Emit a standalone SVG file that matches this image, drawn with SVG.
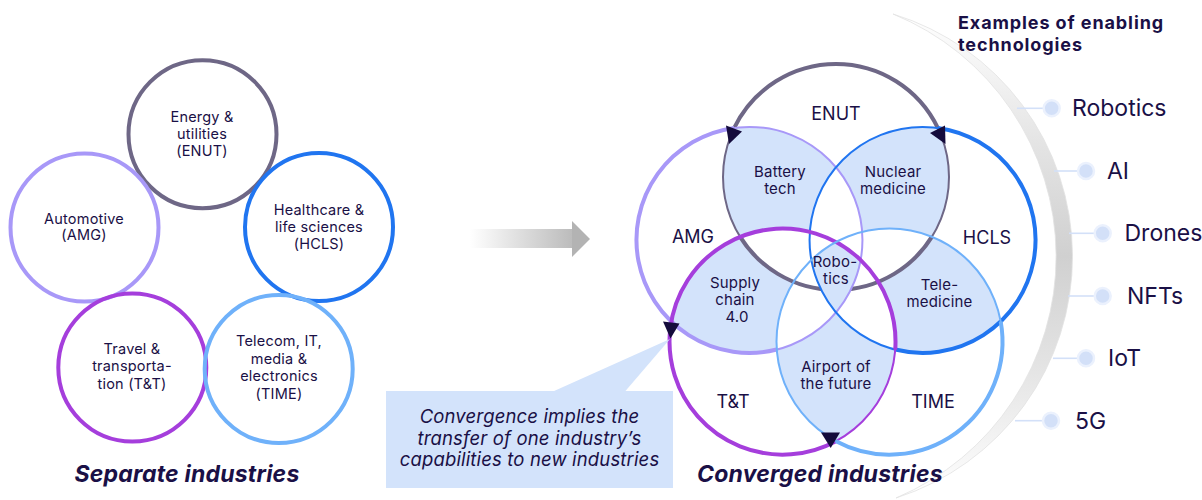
<svg xmlns="http://www.w3.org/2000/svg" width="1202" height="500" viewBox="0 0 1202 500">
<style>
text{font-family:Inter,"Liberation Sans",sans-serif;fill:#1a1046}
.lt{font-size:14.5px;text-anchor:middle;letter-spacing:0.2px}
.vl{font-size:18px;text-anchor:middle}
.rl{font-size:15px;text-anchor:middle;letter-spacing:0.2px}
.tl{font-size:23px}
.hd{font-size:18px;font-weight:700;letter-spacing:0.9px}
.ti{font-size:23px;font-weight:700;font-style:italic;text-anchor:middle;letter-spacing:0.2px}
.co{font-size:18.5px;font-style:italic;text-anchor:middle;letter-spacing:0.15px}
.lc{fill:none;stroke-width:4}
.thin{fill:none;stroke-width:2}
.thk{fill:none;stroke-width:4;stroke-linecap:butt}
.ah{fill:#140b3c}
.dot{fill:#d3e0f8;stroke:#ebf1fd;stroke-width:2.5}
.tline{stroke:#d3e0f8;stroke-width:1.6}
.fb{fill:#d3e3fb}
</style>
<defs>
<clipPath id="kE"><circle cx="836" cy="177" r="113"/></clipPath>
<clipPath id="kA"><circle cx="749.45" cy="239.88" r="113"/></clipPath>
<clipPath id="kH"><circle cx="922.55" cy="239.88" r="113"/></clipPath>
<clipPath id="kT"><circle cx="782.51" cy="341.62" r="113"/></clipPath>
<clipPath id="kM"><circle cx="889.49" cy="341.62" r="113"/></clipPath>
<linearGradient id="gArrow" x1="470" y1="0" x2="590" y2="0" gradientUnits="userSpaceOnUse">
<stop offset="0" stop-color="#ffffff"/><stop offset="1" stop-color="#b0b0b0"/>
</linearGradient>
<linearGradient id="gArc" x1="0" y1="14" x2="0" y2="498" gradientUnits="userSpaceOnUse">
<stop offset="0" stop-color="#ffffff"/><stop offset="0.28" stop-color="#e3e3e3"/><stop offset="0.5" stop-color="#d0d0d0"/><stop offset="0.72" stop-color="#e3e3e3"/><stop offset="1" stop-color="#ffffff"/>
</linearGradient>
</defs>

<!-- big crescent -->
<g id="tech-arc">
<path d="M893,14 A253.5,253.5 0 0 1 896,498 A262,262 0 0 0 893,14 Z" fill="url(#gArc)" stroke="#e2e2e2" stroke-width="0.8"/>
</g>

<!-- Left: separate industries -->
<g id="sep-enut"><circle class="lc" cx="202.5" cy="134.2" r="74" stroke="#6e6786"/>
<text class="lt" x="202" y="122.3">Energy &amp;</text><text class="lt" x="202" y="139">utilities</text><text class="lt" x="202" y="155.7">(ENUT)</text></g>
<g id="sep-amg"><circle class="lc" cx="84.5" cy="227.5" r="74" stroke="#a898f8"/>
<text class="lt" x="84" y="223.5">Automotive</text><text class="lt" x="84" y="240">(AMG)</text></g>
<g id="sep-hcls"><circle class="lc" cx="319" cy="227" r="74" stroke="#2075f0"/>
<text class="lt" x="319" y="214.5">Healthcare &amp;</text><text class="lt" x="319" y="231.8">life sciences</text><text class="lt" x="319" y="249">(HCLS)</text></g>
<g id="sep-tt"><circle class="lc" cx="132.3" cy="367.5" r="74" stroke="#a53edc"/>
<text class="lt" x="132" y="353.5">Travel &amp;</text><text class="lt" x="132" y="371">transporta-</text><text class="lt" x="132" y="388.5">tion (T&amp;T)</text></g>
<g id="sep-time"><circle class="lc" cx="278.7" cy="369" r="74" stroke="#6fb1fa"/>
<text class="lt" x="279" y="346">Telecom, IT,</text><text class="lt" x="279" y="363.5">media &amp;</text><text class="lt" x="279" y="381">electronics</text><text class="lt" x="279" y="398.5">(TIME)</text></g>
<g id="title-sep"><text class="ti" x="187" y="482">Separate industries</text></g>

<!-- Venn fills -->
<g id="venn-fills">
<circle cx="836" cy="177" r="113" class="fb" clip-path="url(#kA)"/>
<circle cx="836" cy="177" r="113" class="fb" clip-path="url(#kH)"/>
<circle cx="749.45" cy="239.88" r="113" class="fb" clip-path="url(#kT)"/>
<circle cx="922.55" cy="239.88" r="113" class="fb" clip-path="url(#kM)"/>
<circle cx="782.51" cy="341.62" r="113" class="fb" clip-path="url(#kM)"/>
<circle cx="836" cy="177" r="113" fill="#fff" clip-path="url(#kT)"/>
<circle cx="836" cy="177" r="113" fill="#fff" clip-path="url(#kM)"/>
<circle cx="749.45" cy="239.88" r="113" fill="#fff" clip-path="url(#kH)"/>
<circle cx="749.45" cy="239.88" r="113" fill="#fff" clip-path="url(#kM)"/>
<circle cx="922.55" cy="239.88" r="113" fill="#fff" clip-path="url(#kT)"/>
</g>

<!-- ENUT circle -->
<g id="conv-enut">
<circle class="thin" cx="836" cy="177" r="113" stroke="#6e6786" stroke-width="2.4"/>
<path class="thk" stroke="#6e6786" stroke-width="3.2" d="M734.22,127.91 A113,113 0 0 1 937.78,127.91"/>
<path class="thk" stroke="#6e6786" stroke-width="4.5" d="M740.15,236.86 A113,113 0 0 0 931.85,236.86"/>
<text class="vl" x="836" y="119.5">ENUT</text>
</g>

<!-- Robotics center fill -->
<g id="robotics-fill" clip-path="url(#kA)"><g clip-path="url(#kH)"><g clip-path="url(#kT)">
<circle cx="889.49" cy="341.62" r="113" class="fb"/></g></g></g>

<g id="conv-amg">
<circle class="thin" cx="749.45" cy="239.88" r="113" stroke="#a898f8"/>
<path class="thk" stroke="#a898f8" d="M734.22,127.91 A113,113 0 1 0 776.76,349.53"/>
<text class="vl" x="693" y="242.5">AMG</text>
</g>
<g id="conv-hcls">
<circle class="thin" cx="922.55" cy="239.88" r="113" stroke="#2075f0"/>
<path class="thk" stroke="#2075f0" d="M937.78,127.91 A113,113 0 1 1 895.24,349.53"/>
<text class="vl" x="987" y="243.5">HCLS</text>
</g>
<g id="conv-tt">
<circle class="thin" cx="782.51" cy="341.62" r="113" stroke="#a53edc"/>
<path class="thk" stroke="#a53edc" d="M836,441.16 A113,113 0 1 1 895.24,349.53"/>
<text class="vl" x="733" y="408">T&amp;T</text>
</g>
<g id="conv-time">
<circle class="thin" cx="889.49" cy="341.62" r="113" stroke="#6fb1fa"/>
<path class="thk" stroke="#6fb1fa" d="M836,441.16 A113,113 0 0 0 1000.69,321.51"/>
<text class="vl" x="933" y="408">TIME</text>
</g>

<!-- region labels -->
<g id="lbl-battery"><text class="rl" x="780" y="176.5">Battery</text><text class="rl" x="780" y="193.5">tech</text></g>
<g id="lbl-nuclear"><text class="rl" x="893" y="177">Nuclear</text><text class="rl" x="893" y="194">medicine</text></g>
<g id="lbl-supply"><text class="rl" x="735" y="288">Supply</text><text class="rl" x="735" y="305">chain</text><text class="rl" x="737" y="322">4.0</text></g>
<g id="lbl-robotics"><text class="rl" x="835" y="267">Robo-</text><text class="rl" x="836" y="284">tics</text></g>
<g id="lbl-tele"><text class="rl" x="939.5" y="290">Tele-</text><text class="rl" x="939.5" y="307">medicine</text></g>
<g id="lbl-airport"><text class="rl" x="836" y="371.5">Airport of</text><text class="rl" x="836" y="388.5">the future</text></g>
<g id="title-conv"><text class="ti" x="820" y="482">Converged industries</text></g>

<!-- connectors -->
<g id="connectors">
<rect x="470" y="229" width="103" height="19" fill="url(#gArrow)"/>
<polygon points="572,221 590,239 572,257" fill="#b3b3b3"/>
<polygon class="ah" points="726,125.5 742,131.5 729,144"/>
<polygon class="ah" points="930,133 945,125.5 945.5,144"/>
<polygon class="ah" points="663,321.5 679.5,323.5 670.5,338.5"/>
<polygon class="ah" points="821,432.5 840,432.5 830.7,448"/>
<line class="tline" x1="1017" y1="108.3" x2="1044" y2="108.3"/>
<line class="tline" x1="1054" y1="171" x2="1078" y2="171"/>
<line class="tline" x1="1069" y1="233.3" x2="1095" y2="233.3"/>
<line class="tline" x1="1068" y1="296" x2="1095" y2="296"/>
<line class="tline" x1="1053" y1="358.3" x2="1078" y2="358.3"/>
<line class="tline" x1="1015" y1="420.7" x2="1043" y2="420.7"/>
</g>

<!-- callout -->
<g id="callout">
<polygon points="553,391.5 625,391.5 670,339" fill="#d3e3fb"/>
<rect x="386" y="391" width="287" height="97" fill="#d3e3fb"/>
<text class="co" x="529.5" y="423">Convergence implies the</text>
<text class="co" x="529.5" y="444.5">transfer of one industry’s</text>
<text class="co" x="529.5" y="466">capabilities to new industries</text>
</g>

<!-- technologies -->
<g id="tech-heading"><text class="hd" x="958" y="29">Examples of enabling</text><text class="hd" x="958" y="50.5">technologies</text></g>
<g id="tech-robotics"><circle class="dot" cx="1051.7" cy="108.3" r="8"/><text class="tl" x="1072" y="116">Robotics</text></g>
<g id="tech-ai"><circle class="dot" cx="1086" cy="171" r="8"/><text class="tl" x="1107" y="178.5">AI</text></g>
<g id="tech-drones"><circle class="dot" cx="1102.7" cy="233.3" r="8"/><text class="tl" x="1124.5" y="241">Drones</text></g>
<g id="tech-nfts"><circle class="dot" cx="1102.7" cy="296" r="8"/><text class="tl" x="1127" y="303.5">NFTs</text></g>
<g id="tech-iot"><circle class="dot" cx="1086" cy="358.3" r="8"/><text class="tl" x="1108" y="366">IoT</text></g>
<g id="tech-5g"><circle class="dot" cx="1051" cy="420.7" r="8"/><text class="tl" x="1075" y="428.5">5G</text></g>
</svg>
